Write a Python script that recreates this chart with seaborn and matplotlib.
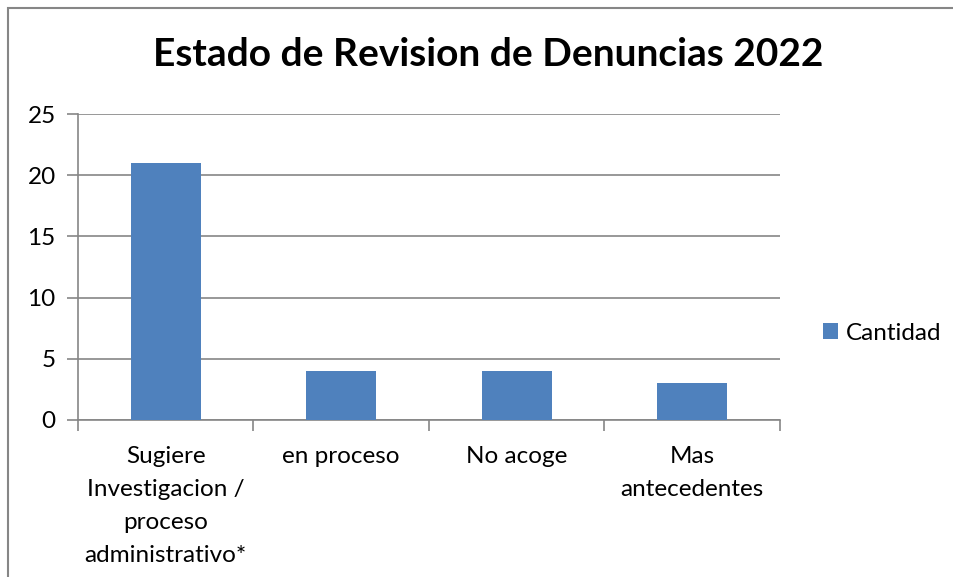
import matplotlib
matplotlib.use("Agg")
import matplotlib.pyplot as plt
from matplotlib.patches import Rectangle
import seaborn as sns

categories = ["Sugiere\nInvestigacion /\nproceso\nadministrativo*", "en proceso", "No acoge", "Mas\nantecedentes"]
values = [21, 4, 4, 3]
series_name = "Cantidad"
title = "Estado de Revision de Denuncias 2022"
y_ticks = [0, 5, 10, 15, 20, 25]

sns.set_style("white")
plt.rcParams["font.family"] = ["Lato", "DejaVu Sans"]
plt.rcParams["text.color"] = "black"
plt.rcParams["xtick.labelcolor"] = "black"
plt.rcParams["ytick.labelcolor"] = "black"

W, H = 954, 577
fig = plt.figure(figsize=(W / 100, H / 100), dpi=100)

# chart frame (open on the right and bottom edges of the canvas)
fig.patches.append(Rectangle((8 / W, -0.05), 1.0, 1.05 - 8 / H, transform=fig.transFigure,
                             fill=False, edgecolor="#868686", linewidth=1.5, zorder=0))

ax = fig.add_axes([78 / W, (H - 420) / H, 702 / W, 306 / H])
sns.barplot(x=categories, y=values, color="#4F81BD", width=0.4, saturation=1,
            linewidth=0, label=series_name, ax=ax, zorder=3)

ax.set_ylim(0, 25)
ax.set_xlim(-0.5, len(categories) - 0.5)
ax.set_yticks(y_ticks)
ax.yaxis.grid(True, color="#868686", linewidth=1.2, zorder=0)
ax.set_axisbelow(True)
for s in ["top", "right"]:
    ax.spines[s].set_visible(False)
for s in ["left", "bottom"]:
    ax.spines[s].set_color("#868686")
    ax.spines[s].set_linewidth(1.2)

ax.set_xlabel("")
ax.set_ylabel("")
ax.tick_params(axis="y", which="major", direction="out", length=8, width=1.2,
               color="#868686", labelsize=17.5, pad=8, left=True)
ax.tick_params(axis="x", which="major", length=0, labelsize=17.5, pad=19)
ax.set_xticks([i - 0.5 for i in range(len(categories) + 1)], minor=True)
ax.tick_params(axis="x", which="minor", direction="out", length=8, width=1.2,
               color="#868686", bottom=True)
for lbl in ax.get_xticklabels():
    lbl.set_linespacing(1.7)
    lbl.set_verticalalignment("top")
    lbl.set_horizontalalignment("center")

fig.text(488 / W, 1 - 55 / H, title, ha="center", va="center",
         fontsize=28, fontweight="bold")

ax.legend(loc="center left", bbox_to_anchor=(823 / W, 1 - 333 / H),
          bbox_transform=fig.transFigure, frameon=False, fontsize=17.5,
          handlelength=0.6, handleheight=0.6, handletextpad=0.35,
          borderpad=0, borderaxespad=0)

fig.savefig("out.png", dpi=100)
